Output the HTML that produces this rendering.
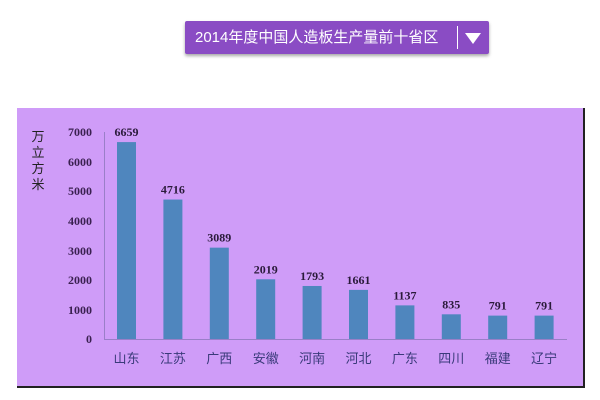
<!DOCTYPE html>
<html><head><meta charset="utf-8"><style>
body{margin:0;width:600px;height:400px;background:#fff;overflow:hidden;position:relative;font-family:"Liberation Sans","Noto Sans CJK SC",sans-serif}
.ban{position:absolute;left:185px;top:21px;width:304px;height:33px;background:#8a4cc4;border-radius:2px;box-shadow:0 2px 3px rgba(0,0,0,.35);color:#fff;font-size:15px;line-height:33px}
.ban span{position:absolute;left:10px}
.ban i{position:absolute;left:272px;top:5px;width:1px;height:23px;background:#fff}
.ban b{position:absolute;left:280px;top:12px;width:0;height:0;border-left:8px solid transparent;border-right:8px solid transparent;border-top:11px solid #fff}
.box{position:absolute;left:17px;top:108px;width:566px;height:278px;background:#cf9cf8;border-right:2px solid #222;border-bottom:2px solid #222}
</style></head><body>
<div class="ban"><span>2014年度中国人造板生产量前十省区</span><i></i><b></b></div>
<div class="box"></div>
<svg width="600" height="400" style="position:absolute;left:0;top:0" font-family="Liberation Sans,Noto Sans CJK SC,sans-serif">
<g font-size="13" fill="#222" font-family="Noto Sans CJK SC,sans-serif" text-anchor="middle"><text x="38" y="141">万</text><text x="38" y="157">立</text><text x="38" y="173">方</text><text x="38" y="189">米</text></g>
<g stroke="#9a7fc8" stroke-width="1"><line x1="104.5" y1="132" x2="104.5" y2="339"/><line x1="104" y1="339.5" x2="567" y2="339.5"/></g>
<g font-size="12" font-weight="bold" fill="#3a2050" text-anchor="end" font-family="Liberation Serif,serif">
<text x="92" y="343">0</text><text x="92" y="314">1000</text><text x="92" y="284">2000</text><text x="92" y="255">3000</text><text x="92" y="225">4000</text><text x="92" y="195">5000</text><text x="92" y="166">6000</text><text x="92" y="136">7000</text></g>
<g fill="#4f86be" id="bars"></g>
<g id="lab" font-size="12" font-weight="bold" fill="#2a1a3a" text-anchor="middle" font-family="Liberation Serif,serif"></g>
<g id="cat" font-size="13" fill="#3a3a7a" text-anchor="middle" font-family="Noto Sans CJK SC,sans-serif"></g>
</svg>
<script>
var v=[6659,4716,3089,2019,1793,1661,1137,835,791,791],n=["山东","江苏","广西","安徽","河南","河北","广东","四川","福建","辽宁"];
var ns="http://www.w3.org/2000/svg",B=document.getElementById("bars"),L=document.getElementById("lab"),C=document.getElementById("cat");
v.forEach(function(d,i){var x=117+i*46.4,h=d*207/7000,y=339-h;
var r=document.createElementNS(ns,"rect");r.setAttribute("x",x);r.setAttribute("y",y);r.setAttribute("width",19);r.setAttribute("height",h);B.appendChild(r);
var t=document.createElementNS(ns,"text");t.setAttribute("x",x+9.5);t.setAttribute("y",y-6);t.textContent=d;L.appendChild(t);
var c=document.createElementNS(ns,"text");c.setAttribute("x",x+9.5);c.setAttribute("y",363);c.textContent=n[i];C.appendChild(c);});
</script>
</body></html>
